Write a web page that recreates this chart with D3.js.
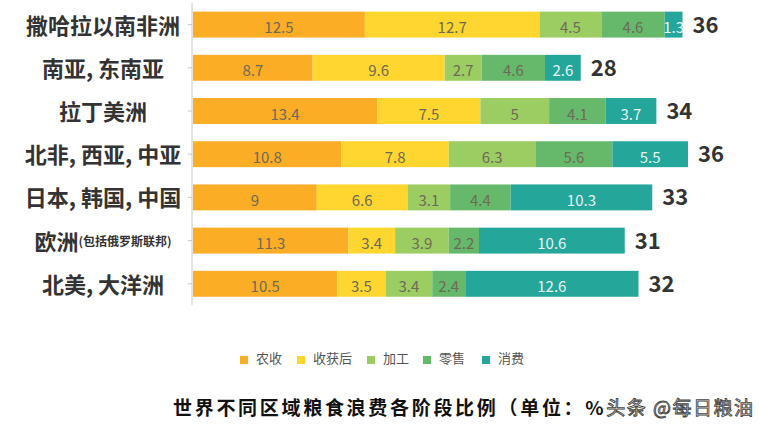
<!DOCTYPE html>
<html><head><meta charset="utf-8">
<script src="https://cdn.jsdelivr.net/npm/d3@7"></script>
<style>
html,body{margin:0;padding:0;background:#fff;}
svg{display:block;font-family:"Noto Sans CJK SC","Noto Sans",sans-serif;}
</style></head>
<body>
<svg id="chart" width="761" height="428"></svg>
<script>
const categories = ["撒哈拉以南非洲","南亚, 东南亚","拉丁美洲","北非, 西亚, 中亚","日本, 韩国, 中国","欧洲","北美, 大洋洲"];
const categoryNotes = ["","","","","","(包括俄罗斯联邦)",""];
const seriesNames = ["农收","收获后","加工","零售","消费"];
const farming     = [12.5, 8.7, 13.4, 10.8, 9, 11.3, 10.5];
const postHarvest = [12.7, 9.6, 7.5, 7.8, 6.6, 3.4, 3.5];
const processing  = [4.5, 2.7, 5, 6.3, 3.1, 3.9, 3.4];
const retail      = [4.6, 4.6, 4.1, 5.6, 4.4, 2.2, 2.4];
const consumption = [1.3, 2.6, 3.7, 5.5, 10.3, 10.6, 12.6];
const totals      = [36, 28, 34, 36, 33, 31, 32];
const colors = ["#FBAD26","#FED62F","#9CCD63","#66B96A","#24A69A"];
const title = "世界不同区域粮食浪费各阶段比例（单位：%";
const watermark = ["头条"," @每日粮油"];

const seriesValues = [farming, postHarvest, processing, retail, consumption];
const rows = categories.map((c,i)=>{
  const o = {cat:c};
  seriesNames.forEach((s,j)=>o[s]=seriesValues[j][i]);
  return o;
});
const stacked = d3.stack().keys(seriesNames)(rows);

const svg = d3.select("#chart");
const x = d3.scaleLinear().domain([0,40]).range([193,743]);
const y = d3.scaleBand().domain(categories).range([3,305.4]).paddingInner(0.4).paddingOuter(0.2);

// axis
const yAxis = svg.append("g").attr("transform","translate(192,0)")
  .call(d3.axisLeft(y).tickSize(4).tickFormat(""));
yAxis.select(".domain").attr("stroke","#c8c8c8").attr("d","M0,3V305");
yAxis.selectAll(".tick line").attr("stroke","#c8c8c8");

// category labels (centred block)
categories.forEach((c,i)=>{
  const t = svg.append("text").attr("x",103).attr("y",y(c)+y.bandwidth()/2-1)
    .attr("text-anchor","middle").attr("dominant-baseline","central")
    .attr("fill","#333").attr("font-weight","bold").attr("font-size",22);
  t.append("tspan").text(c);
  if(categoryNotes[i]) t.append("tspan").attr("font-size",12).attr("font-weight","bold").text(categoryNotes[i]);
});

// bars
const g = svg.append("g");
stacked.forEach((layer,j)=>{
  g.selectAll(null).data(layer).enter().append("rect")
    .attr("x",d=>x(d[0])).attr("width",d=>x(d[1])-x(d[0]))
    .attr("y",(d,i)=>y(categories[i])).attr("height",y.bandwidth())
    .attr("fill",colors[j]);
  g.selectAll(null).data(layer).enter().append("text")
    .attr("x",d=>(x(d[0])+x(d[1]))/2)
    .attr("y",(d,i)=>y(categories[i])+y.bandwidth()/2+2)
    .attr("text-anchor","middle").attr("dominant-baseline","central")
    .attr("font-size",15)
    .attr("fill", j===4 ? "#e6f4f2" : "#6e6a58")
    .text(d=>d[1]-d[0] ? +(d[1]-d[0]).toFixed(1) : "");
});

// totals
const last = stacked[stacked.length-1];
svg.selectAll(null).data(last).enter().append("text")
  .attr("x",d=>x(d[1])+10).attr("y",(d,i)=>y(categories[i])+y.bandwidth()/2-2)
  .attr("dominant-baseline","central")
  .attr("font-size",22).attr("font-weight","bold").attr("fill","#333")
  .text((d,i)=>totals[i]);

// legend
const legendX = [240,297,367,423,482];
const lg = svg.append("g");
seriesNames.forEach((s,j)=>{
  lg.append("rect").attr("x",legendX[j]).attr("y",356).attr("width",8).attr("height",8).attr("fill",colors[j]);
  lg.append("text").attr("x",legendX[j]+16).attr("y",357).attr("dominant-baseline","central")
    .attr("font-size",13).attr("fill","#555").text(s);
});

// title
const tt = svg.append("text").attr("x",173).attr("y",406).attr("dominant-baseline","central")
  .attr("font-size",19).attr("font-weight","bold").attr("fill","#111");
tt.append("tspan").attr("letter-spacing",2.7).text(title);
tt.append("tspan").attr("font-weight","normal").attr("fill","#fff").attr("stroke","#444").attr("stroke-width",0.9)
  .attr("letter-spacing",1.5).text(watermark[0]);
tt.append("tspan").attr("font-weight","normal").attr("fill","#fff").attr("stroke","#444").attr("stroke-width",0.9)
  .attr("letter-spacing",1.5).text(watermark[1]);
</script>
</body></html>
